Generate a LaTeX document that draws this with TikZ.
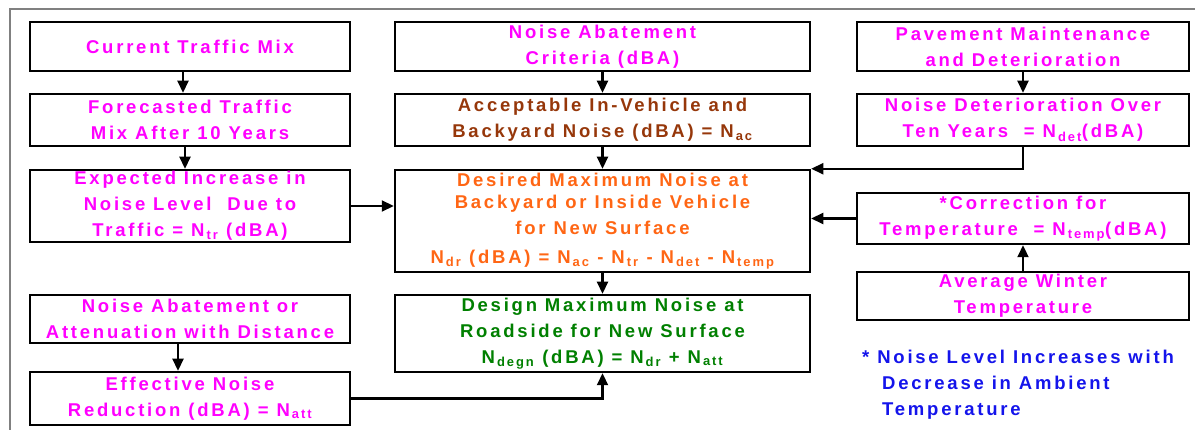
\documentclass[tikz,border=0pt]{standalone}
\usepackage{fontspec}
\setmainfont{Liberation Sans}
\newfontfamily\wideface[LetterSpace=15]{Liberation Sans}
\usepackage{xcolor}
\usetikzlibrary{arrows.meta,positioning}
\definecolor{pinkmag}{RGB}{255,0,255}
\definecolor{critbrown}{RGB}{150,55,10}
\definecolor{desorange}{RGB}{255,102,20}
\definecolor{desgreen}{RGB}{0,128,0}
\definecolor{noteblue}{RGB}{20,20,235}
\begin{document}
\begin{tikzpicture}[x=1pt, y=1pt,
    font=\wideface\bfseries\fontsize{18.5}{26}\selectfont,
    box/.style={draw=black, line width=2.5pt, fill=white, inner sep=0pt,
      align=center, text=pinkmag},
    leftbox/.style={box, minimum width=320pt},
    midbox/.style={box, minimum width=415pt},
    rightbox/.style={box, minimum width=332pt},
    arrow/.style={-{Triangle[length=12pt,width=11pt]}, line width=2.2pt}
  ]
    \useasboundingbox (0,0) rectangle (1195,-430);
    \draw[gray, line width=1.2pt] (1195,-9) -- (10,-9) -- (10,-430);
    % left column
    \node[leftbox, minimum height=49pt] (mix) at (190,-46.5) {Current Traffic Mix};
    \node[leftbox, minimum height=52pt, below=20.5pt of mix] (forecast)
      {Forecasted Traffic\\Mix After 10 Years};
    \node[leftbox, minimum height=72pt, below=21.5pt of forecast] (increase)
      {Expected Increase in\\Noise Level \ Due to\\Traffic = N\kern2pt\textsubscript{tr} (dBA)};
    \node[leftbox, minimum height=48pt, below=50.5pt of increase] (distance)
      {Noise Abatement or\\Attenuation with Distance};
    \node[leftbox, minimum height=53pt, below=26.5pt of distance] (reduction)
      {Effective Noise\\Reduction (dBA) = N\kern2pt\textsubscript{att}};
    % middle column
    \node[midbox, minimum height=49pt] (criteria) at (602.5,-46.5)
      {Noise Abatement\\Criteria (dBA)};
    \node[midbox, minimum height=52pt, below=20.5pt of criteria, text=critbrown] (accept)
      {Acceptable In-Vehicle and\\Backyard Noise (dBA) = N\kern2pt\textsubscript{ac}};
    \node[midbox, minimum height=102pt, below=21.5pt of accept, text=desorange] (desired)
      {Desired Maximum Noise at\\[-4pt]Backyard or Inside Vehicle\\for New Surface\\[3pt]
      N\kern2pt\textsubscript{dr} (dBA) = N\kern2pt\textsubscript{ac} - N\kern2pt\textsubscript{tr}
      - N\kern2pt\textsubscript{det} - N\kern2pt\textsubscript{temp}};
    \node[midbox, minimum height=77pt, below=20.5pt of desired, text=desgreen] (design)
      {Design Maximum Noise at\\Roadside for New Surface\\
      N\kern2pt\textsubscript{degn} (dBA) = N\kern2pt\textsubscript{dr} + N\kern2pt\textsubscript{att}};
    % right column
    \node[rightbox, minimum height=49pt] (pavement) at (1023,-46.5)
      {Pavement Maintenance\\and Deterioration};
    \node[rightbox, minimum height=52pt, below=20.5pt of pavement] (deterior)
      {Noise Deterioration Over\\Ten Years \ = N\kern2pt\textsubscript{det}(dBA)};
    \node[rightbox, minimum height=51pt, below=44.5pt of deterior] (correct)
      {*Correction for\\Temperature \ = N\kern2pt\textsubscript{temp}(dBA)};
    \node[rightbox, minimum height=48pt, below=25.5pt of correct] (winter)
      {Average Winter\\Temperature};
    \node[anchor=north west, align=left, text=noteblue, inner sep=0pt] (note) at (862,-350)
      {* Noise Level Increases with\\\hspace*{20pt}Decrease in Ambient\\\hspace*{20pt}Temperature};
    % connectors
    \draw[arrow] ([xshift=-7pt]mix.south) -- ([xshift=-7pt]forecast.north);
    \draw[arrow] ([xshift=-5pt]forecast.south) -- ([xshift=-5pt]increase.north);
    \draw[arrow] (increase.east) -- (increase.east -| desired.west);
    \draw[arrow] ([xshift=-12pt]distance.south) -- ([xshift=-12pt]reduction.north);
    \draw[arrow] (reduction.east) -| (design.south);
    \draw[arrow] (criteria) -- (accept);
    \draw[arrow] (accept) -- (desired);
    \draw[arrow] (desired) -- (design);
    \draw[arrow] (pavement) -- (deterior);
    \draw[arrow] (deterior.south) |- (desired.north east);
    \draw[arrow] (correct.west) -- (correct.west -| desired.east);
    \draw[arrow] (winter) -- (correct);
  \end{tikzpicture}
\end{document}
